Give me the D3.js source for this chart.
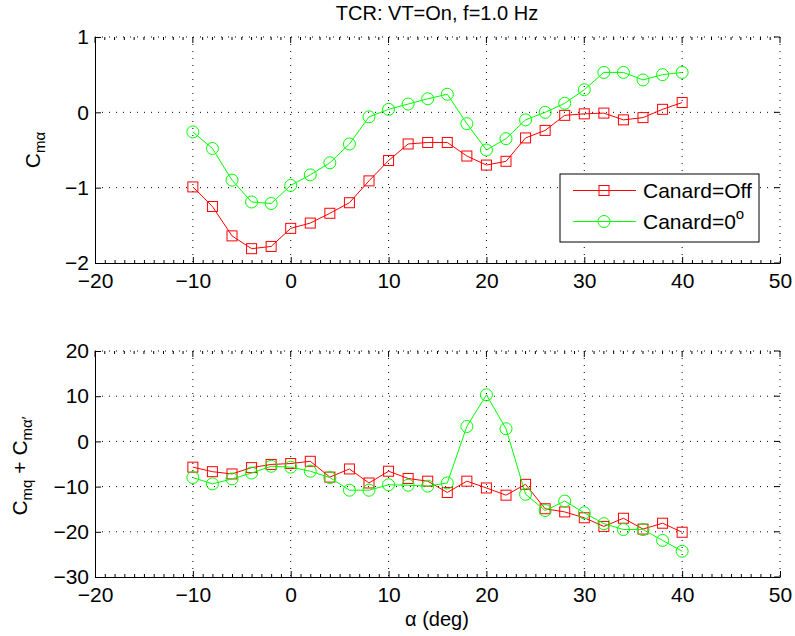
<!DOCTYPE html>
<html>
<head>
<meta charset="utf-8">
<script src="https://cdn.jsdelivr.net/npm/d3@7"></script>
<style>
  html, body { margin: 0; padding: 0; background: #fff; }
  svg { display: block; font-family: "Liberation Sans", Arial, Helvetica, sans-serif; }
</style>
</head>
<body>
<svg id="chart" width="795" height="636"></svg>
<script>
// Angle of attack (deg)
const alpha = [-10, -8, -6, -4, -2, 0, 2, 4, 6, 8, 10, 12, 14, 16, 18, 20, 22, 24, 26, 28, 30, 32, 34, 36, 38, 40];

// Cm_alpha
const cmaOff = [-0.99, -1.25, -1.64, -1.81, -1.78, -1.54, -1.47, -1.34, -1.20, -0.91, -0.64, -0.42, -0.40,
                -0.40, -0.58, -0.70, -0.65, -0.34, -0.24, -0.04, -0.02, -0.01, -0.10, -0.07, 0.04, 0.13];
const cmaZero = [-0.26, -0.48, -0.90, -1.19, -1.21, -0.97, -0.83, -0.67, -0.42, -0.06, 0.04, 0.11, 0.18,
                 0.24, -0.15, -0.50, -0.35, -0.10, 0.00, 0.12, 0.30, 0.53, 0.53, 0.43, 0.50, 0.53];

// Cmq + Cm_alpha_dot
const cmqOff = [-5.7, -6.7, -7.2, -5.8, -5.1, -4.9, -4.4, -7.9, -6.1, -9.2, -6.6, -8.2, -8.8,
                -11.3, -8.8, -10.3, -11.9, -9.5, -14.9, -15.6, -16.9, -18.8, -17.0, -19.4, -18.1, -20.1];
const cmqZero = [-8.0, -9.4, -8.3, -7.0, -5.5, -5.7, -6.6, -8.0, -10.8, -10.8, -9.6, -9.7, -9.9,
                 -9.2, 3.3, 10.3, 2.8, -11.7, -15.3, -13.2, -15.8, -18.2, -19.5, -19.5, -21.9, -24.3];

const xTicks = [-20, -10, 0, 10, 20, 30, 40, 50];
const yTicksTop = [-2, -1, 0, 1];
const yTicksBottom = [-30, -20, -10, 0, 10, 20];
const seriesNames = ["Canard=Off", "Canard=0"];
const seriesColors = ["#ff0000", "#00ff00"];

const svg = d3.select("#chart");
const left = 95, right = 780;
const tickFont = 21;
const x = d3.scaleLinear().domain([-20, 50]).range([left, right]);
const minorX = d3.range(-20, 51, 1).filter(v => v % 10 !== 0);
const fmt = d3.format("d");

function panel(top, bottom, yDomain, yTicks, offVals, zeroVals) {
  const y = d3.scaleLinear().domain(yDomain).range([bottom, top]);
  const g = svg.append("g");

  // dotted grid
  const grid = g.append("g").attr("stroke", "#000").attr("stroke-width", 1)
    .attr("stroke-dasharray", "1,6").attr("fill", "none");
  xTicks.filter(v => v !== -20).forEach(v => {
    grid.append("line").attr("x1", x(v)).attr("x2", x(v)).attr("y1", top).attr("y2", bottom);
  });
  yTicks.filter(v => v !== yDomain[0]).forEach(v => {
    grid.append("line").attr("x1", left).attr("x2", right).attr("y1", y(v)).attr("y2", y(v));
  });

  // mirrored ticks on top and right edges
  const mir = g.append("g").attr("stroke", "#000").attr("stroke-width", 1);
  xTicks.forEach(v => mir.append("line").attr("x1", x(v)).attr("x2", x(v)).attr("y1", top).attr("y2", top + 6));
  minorX.forEach(v => mir.append("line").attr("x1", x(v)).attr("x2", x(v)).attr("y1", top).attr("y2", top + 3));
  yTicks.forEach(v => mir.append("line").attr("x1", right).attr("x2", right - 6).attr("y1", y(v)).attr("y2", y(v)));

  // x axis
  const xa = g.append("g").attr("transform", `translate(0,${bottom})`)
    .call(d3.axisBottom(x).tickValues(xTicks).tickFormat(fmt).tickSizeInner(-6).tickSizeOuter(0).tickPadding(10));
  g.append("g").attr("transform", `translate(0,${bottom})`)
    .call(d3.axisBottom(x).tickValues(minorX).tickSizeInner(-3).tickSizeOuter(0).tickFormat(""))
    .call(s => s.select(".domain").remove());
  // y axis
  const ya = g.append("g").attr("transform", `translate(${left},0)`)
    .call(d3.axisLeft(y).tickValues(yTicks).tickFormat(fmt).tickSizeInner(-6).tickSizeOuter(0).tickPadding(6));
  [xa, ya].forEach(a => {
    a.selectAll("text").attr("font-size", tickFont).attr("fill", "#000")
      .attr("font-family", "Liberation Sans, Arial, sans-serif");
    a.selectAll("line").attr("stroke", "#000");
    a.select(".domain").attr("stroke", "#000");
  });

  const line = d3.line().x((d, i) => x(alpha[i])).y(d => y(d));

  // Canard=Off series with squares
  g.append("path").datum(offVals).attr("d", line).attr("fill", "none")
    .attr("stroke", seriesColors[0]).attr("stroke-width", 1);
  g.append("g").selectAll("rect").data(offVals).join("rect")
    .attr("x", (d, i) => x(alpha[i]) - 5).attr("y", d => y(d) - 5)
    .attr("width", 10).attr("height", 10)
    .attr("fill", "none").attr("stroke", seriesColors[0]).attr("stroke-width", 1);

  // Canard=0 series with circles
  g.append("path").datum(zeroVals).attr("d", line).attr("fill", "none")
    .attr("stroke", seriesColors[1]).attr("stroke-width", 1);
  g.append("g").selectAll("circle").data(zeroVals).join("circle")
    .attr("cx", (d, i) => x(alpha[i])).attr("cy", d => y(d)).attr("r", 6)
    .attr("fill", "none").attr("stroke", seriesColors[1]).attr("stroke-width", 1);

  return y;
}

panel(37, 263, [-2, 1], yTicksTop, cmaOff, cmaZero);
panel(351, 577, [-30, 20], yTicksBottom, cmqOff, cmqZero);

// title
svg.append("text").attr("x", 437).attr("y", 20).attr("text-anchor", "middle")
  .attr("font-size", 20).text("TCR: VT=On, f=1.0 Hz");

// x label
svg.append("text").attr("x", 437).attr("y", 626).attr("text-anchor", "middle")
  .attr("font-size", 20).text("α (deg)");

// y labels
const yl1 = svg.append("text").attr("transform", "translate(40,150) rotate(-90)")
  .attr("text-anchor", "middle").attr("font-size", 21);
yl1.append("tspan").text("C");
yl1.append("tspan").attr("font-size", 15).attr("dy", 5).text("mα");

const yl2 = svg.append("text").attr("transform", "translate(27,466) rotate(-90)")
  .attr("text-anchor", "middle").attr("font-size", 21);
yl2.append("tspan").text("C");
yl2.append("tspan").attr("font-size", 15).attr("dy", 5).text("mq");
yl2.append("tspan").attr("dy", -5).text(" + C");
yl2.append("tspan").attr("font-size", 15).attr("dy", 5).text("mα′");

// legend
const lg = svg.append("g");
lg.append("rect").attr("x", 560).attr("y", 174).attr("width", 199).attr("height", 68)
  .attr("fill", "#fff").attr("stroke", "#000").attr("stroke-width", 1);
const rows = [190.5, 221.5];
rows.forEach((ry, k) => {
  lg.append("line").attr("x1", 573).attr("x2", 636).attr("y1", ry).attr("y2", ry)
    .attr("stroke", seriesColors[k]).attr("stroke-width", 1);
  if (k === 0) {
    lg.append("rect").attr("x", 599).attr("y", ry - 5).attr("width", 10).attr("height", 10)
      .attr("fill", "none").attr("stroke", seriesColors[k]);
  } else {
    lg.append("circle").attr("cx", 604).attr("cy", ry).attr("r", 6)
      .attr("fill", "none").attr("stroke", seriesColors[k]);
  }
  const t = lg.append("text").attr("x", 643).attr("y", ry + 7).attr("font-size", 21).text(seriesNames[k]);
  if (k === 1) t.append("tspan").attr("font-size", 15).attr("dy", -10).text("o");
});
</script>
</body>
</html>
